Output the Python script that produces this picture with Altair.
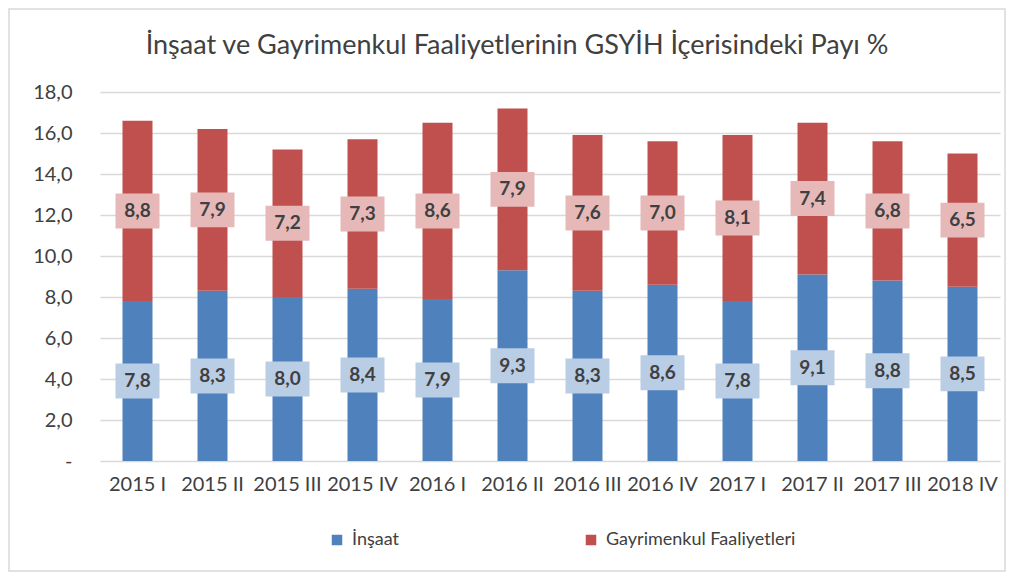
import altair as alt
import pandas as pd

quarters = ["2015 I", "2015 II", "2015 III", "2015 IV", "2016 I", "2016 II",
            "2016 III", "2016 IV", "2017 I", "2017 II", "2017 III", "2018 IV"]
insaat = [7.8, 8.3, 8.0, 8.4, 7.9, 9.3, 8.3, 8.6, 7.8, 9.1, 8.8, 8.5]
gayrimenkul = [8.8, 7.9, 7.2, 7.3, 8.6, 7.9, 7.6, 7.0, 8.1, 7.4, 6.8, 6.5]
series = ["İnşaat", "Gayrimenkul Faaliyetleri"]
bar_colors = ["#4F81BD", "#C0504D"]
box_colors = ["#B9CDE5", "#E6B9B8"]
title_text = "İnşaat ve Gayrimenkul Faaliyetlerinin GSYİH İçerisindeki Payı %"

rows = []
for q, a, b in zip(quarters, insaat, gayrimenkul):
    rows.append({"quarter": q, "series": series[0], "value": a, "order": 0})
    rows.append({"quarter": q, "series": series[1], "value": b, "order": 1})
df = pd.DataFrame(rows)

FONT = "Lato"
W, H = 900, 369
PAD = {"left": 92, "top": 84, "right": 6, "bottom": 111}

base = alt.Chart(df).transform_stack(
    stack="value", groupby=["quarter"], as_=["y0", "y1"],
    sort=[alt.SortField("order", order="ascending")]
).transform_calculate(
    mid="(datum.y0 + datum.y1) / 2",
    label="replace(format(datum.value, '.1f'), '.', ',')"
)

xenc = alt.X("quarter:N", sort=quarters, title=None,
             scale=alt.Scale(paddingInner=0.6, paddingOuter=0.3),
             axis=alt.Axis(labelAngle=0, labelFontSize=20, labelColor="#404040",
                           labelPadding=13, ticks=False, domain=False,
                           labelOverlap=False, labelLimit=200, labelFont=FONT))

bars = base.mark_bar(size=30).encode(
    x=xenc,
    y=alt.Y("y0:Q", title=None,
            scale=alt.Scale(domain=[0, 18], nice=False),
            axis=alt.Axis(values=[0, 2, 4, 6, 8, 10, 12, 14, 16, 18],
                          labelExpr="datum.value == 0 ? '-' : replace(format(datum.value, '.1f'), '.', ',')",
                          labelFontSize=20, labelColor="#404040", labelPadding=28,
                          ticks=False, domain=False, grid=True, gridColor="#D9D9D9",
                          gridWidth=1.5, labelFont=FONT)),
    y2="y1:Q",
    color=alt.Color("series:N", sort=series,
                    scale=alt.Scale(domain=series, range=bar_colors),
                    legend=alt.Legend(title=None, orient="none", direction="horizontal",
                                      legendX=228, legendY=439,
                                      symbolType="square", symbolSize=110,
                                      symbolStrokeWidth=0,
                                      labelFontSize=18, labelColor="#404040",
                                      labelFont=FONT, columnPadding=183,
                                      labelOffset=6, labelLimit=400)),
)

box_path = "M-1,-0.795L1,-0.795L1,0.795L-1,0.795Z"
boxes = base.mark_point(shape=box_path, filled=True, opacity=1, size=44 * 44).encode(
    x=alt.X("quarter:N", sort=quarters),
    y=alt.Y("mid:Q"),
    fill=alt.Fill("series:N", scale=alt.Scale(domain=series, range=box_colors), legend=None),
)

labels = base.mark_text(fontSize=19, fontWeight="bold", color="#404040", font=FONT,
                        baseline="middle", align="center").encode(
    x=alt.X("quarter:N", sort=quarters),
    y=alt.Y("mid:Q"),
    text="label:N",
)

title = alt.Chart(pd.DataFrame({"t": [title_text]})).mark_text(
    fontSize=27, font=FONT, color="#404040", align="center", baseline="middle"
).encode(
    x=alt.value(W / 2 - 33), y=alt.value(-46), text="t:N"
)

frame = alt.Chart(pd.DataFrame({"k": [0]})).mark_rect(
    fill=None, stroke="#D9D9D9", strokeWidth=1.5, clip=False
).encode(
    x=alt.value(-PAD["left"] + 1), x2=alt.value(W + PAD["right"] - 1),
    y=alt.value(-PAD["top"] + 1), y2=alt.value(H + PAD["bottom"] - 1),
)

chart = alt.layer(bars, boxes, labels, title, frame).resolve_scale(
    fill="independent"
).properties(
    width=W, height=H,
    padding=PAD,
    autosize=alt.AutoSizeParams(type="none"),
).configure_view(stroke=None)

chart.save("out.html", embed_options={"renderer": "svg", "actions": False})
